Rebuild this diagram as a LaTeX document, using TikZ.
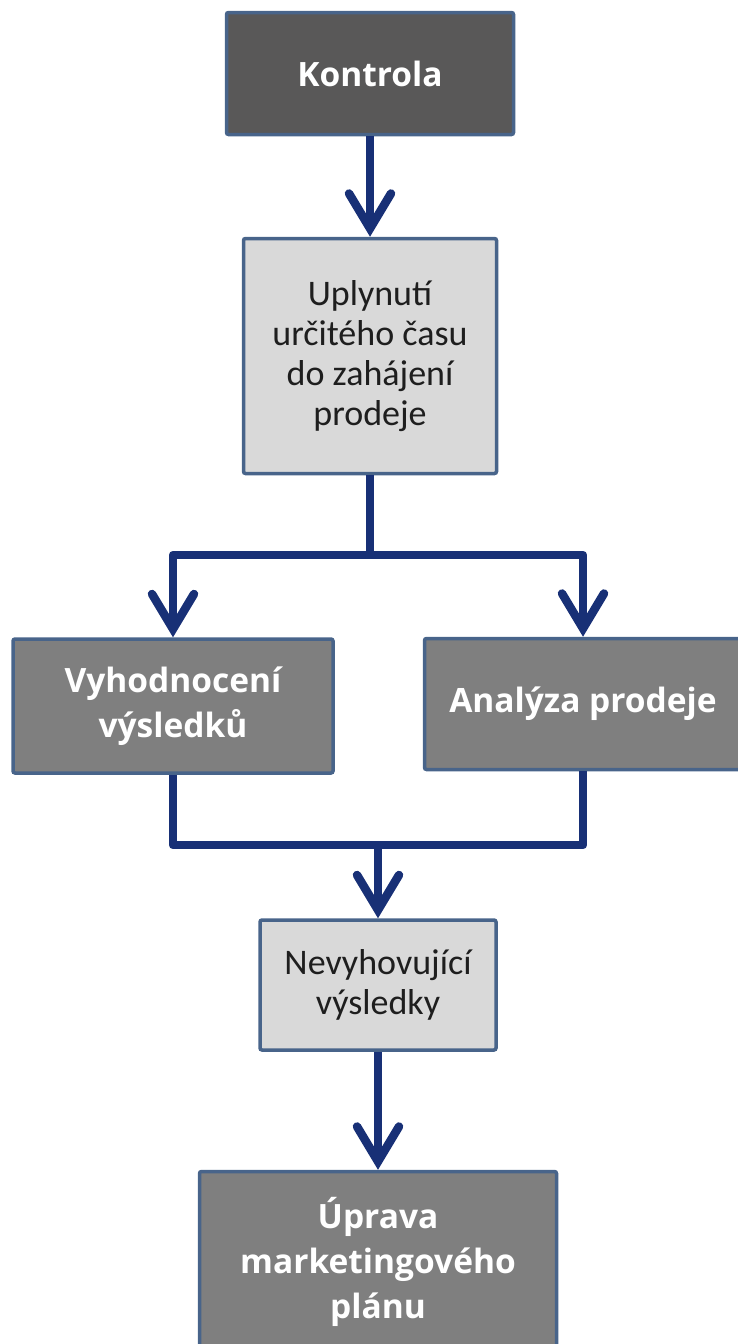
\documentclass[tikz,border=0pt]{standalone}
\usepackage{fontspec}
\setmainfont{Carlito}
\newfontfamily\headfont{Open Sans}
\usetikzlibrary{arrows.meta}

\definecolor{frameblue}{RGB}{72,100,138}
\definecolor{arrownavy}{RGB}{24,48,118}
\definecolor{darkfill}{RGB}{89,88,88}
\definecolor{midfill}{RGB}{127,127,127}
\definecolor{lightfill}{RGB}{217,217,217}
\definecolor{darktext}{RGB}{30,30,30}

\tikzset{
  box/.style={draw=frameblue, line width=3.5pt, rounded corners=2pt,
    inner sep=0pt, align=center},
  lightbox/.style={box, fill=lightfill, text=darktext,
    font=\fontsize{36}{40}\selectfont},
  headbox/.style={box, fill=midfill, text=white,
    font=\headfont\bfseries\fontsize{33.5}{45}\selectfont},
  flow/.style={draw=arrownavy, line width=8.5pt, line join=round},
  barb/.tip={Straight Barb[length=35pt, width=42pt, line cap=round]},
  tip/.style={-barb},
}

\begin{document}
\begin{tikzpicture}[x=1pt, y=-1pt]
  \useasboundingbox (0,0) rectangle (737,1344);

  % process boxes
  \node[headbox, fill=darkfill, minimum width=287pt, minimum height=122pt]
    (kon) at (370,73.5) {Kontrola};
  \node[lightbox, minimum width=253pt, minimum height=235pt]
    (upl) at (370,356) {Uplynutí\\určitého času\\do zahájení\\prodeje};
  \node[headbox, minimum width=320pt, minimum height=134pt]
    (vyh) at (173,706) {Vyhodnocení\\výsledků};
  \node[headbox, minimum width=317pt, minimum height=131pt]
    (ana) at (583,704) {Analýza prodeje};
  \node[lightbox, minimum width=236pt, minimum height=130pt]
    (nev) at (378,985) {Nevyhovující\\výsledky};
  \node[headbox, minimum width=357pt, minimum height=181pt]
    (upr) at (378,1262) {Úprava\\marketingového\\plánu};

  % branching and merging points
  \coordinate (split) at (370,555);
  \coordinate (merge) at (378,845);

  % connectors
  \draw[flow, tip] (kon.south) -- (upl.north);
  \draw[flow] (upl.south) -- (split);
  \draw[flow, barb-barb] (vyh.north) |- (split) -| (ana.north);
  \draw[flow] (vyh.south) |- (merge) -| (ana.south);
  \draw[flow, tip] (merge) -- (nev.north);
  \draw[flow, tip] (nev.south) -- (upr.north);
\end{tikzpicture}
\end{document}
